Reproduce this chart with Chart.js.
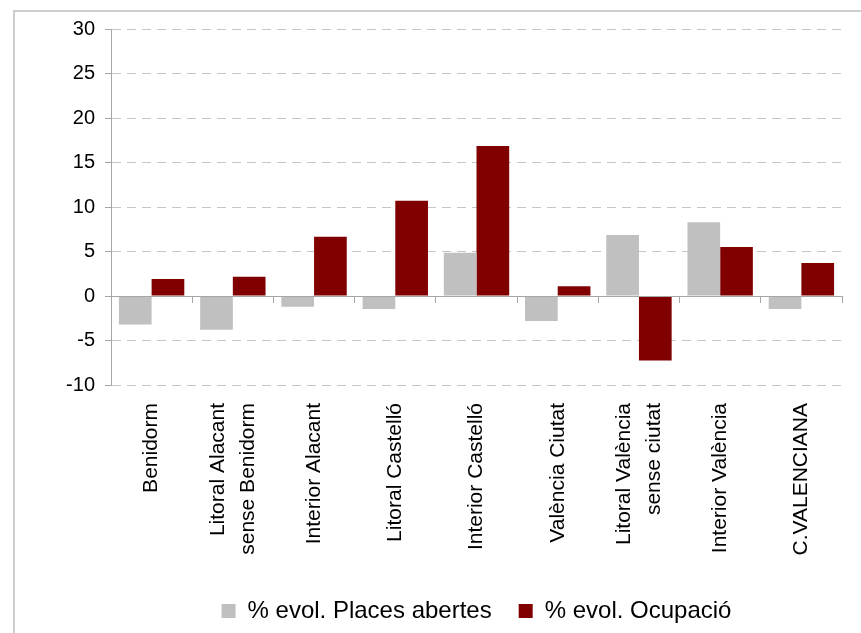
<!DOCTYPE html>
<html><head><meta charset="utf-8">
<script src="https://cdn.jsdelivr.net/npm/chart.js@4/dist/chart.umd.min.js"></script>
<style>
html,body{margin:0;padding:0;background:#fff;}
#wrap{position:relative;width:861px;height:633px;overflow:hidden;}
#frame{position:absolute;left:13px;top:10px;width:900px;height:700px;border:2px solid #cdcdcd;box-sizing:border-box;}
canvas{position:absolute;left:0;top:0;}
</style></head>
<body><div id="wrap"><div id="frame"></div><canvas id="c" width="861" height="633"></canvas></div>
<script>
const categories = [
  'Benidorm',
  ['Litoral Alacant', 'sense Benidorm'],
  'Interior Alacant',
  'Litoral Castelló',
  'Interior Castelló',
  'València Ciutat',
  ['Litoral València', 'sense ciutat'],
  'Interior València',
  'C.VALENCIANA'
];
const seriesNames = ['% evol. Places abertes', '% evol. Ocupació'];
const placesAbertes = [-3.2, -3.8, -1.2, -1.45, 4.85, -2.8, 6.85, 8.3, -1.45];
const ocupacio = [1.9, 2.15, 6.65, 10.7, 16.85, 1.1, -7.25, 5.5, 3.7];
const yTickValues = [-10, -5, 0, 5, 10, 15, 20, 25, 30];

const FONT = "'Liberation Sans', Arial, sans-serif";
const LABEL_FONT = { family: FONT, size: 21, lineHeight: 1.43 };

new Chart(document.getElementById('c'), {
  type: 'bar',
  data: {
    labels: categories,
    datasets: [
      { label: seriesNames[0], data: placesAbertes, backgroundColor: '#c0c0c0', xAxisID: 'x', yAxisID: 'y',
        categoryPercentage: 0.805, barPercentage: 1.0 },
      { label: seriesNames[1], data: ocupacio, backgroundColor: '#800000', xAxisID: 'x', yAxisID: 'y',
        categoryPercentage: 0.805, barPercentage: 1.0 }
    ]
  },
  options: {
    responsive: false,
    animation: false,
    events: [],
    layout: { padding: { left: 14, right: 19, top: 29, bottom: 0 } },
    plugins: {
      tooltip: { enabled: false },
      title: { display: false },
      legend: {
        position: 'bottom',
        fullSize: false,
        labels: {
          boxWidth: 14, boxHeight: 14, padding: 27,
          color: '#000',
          font: { family: FONT, size: 24 }
        }
      }
    },
    scales: {
      x: {
        type: 'category',
        position: 'bottom',
        offset: true,
        grid: { display: false, drawTicks: false },
        border: { display: false },
        ticks: {
          autoSkip: false, maxRotation: 90, minRotation: 90, padding: 18,
          color: '#000',
          font: LABEL_FONT,
          callback: function (v) { const l = this.getLabelForValue(v); return Array.isArray(l) ? '' : l; }
        },
        afterFit: s => { s.height = 187; }
      },
      xm: {
        type: 'category',
        axis: 'x',
        position: { y: -10 },
        offset: true,
        labels: categories,
        grid: { display: false, drawTicks: false },
        border: { display: false },
        ticks: {
          autoSkip: false, maxRotation: 90, minRotation: 90, padding: 18, labelOffset: -15,
          color: '#000',
          font: LABEL_FONT,
          callback: function (v) { const l = this.getLabelForValue(v); return Array.isArray(l) ? l : ''; }
        }
      },
      x2: {
        type: 'category',
        axis: 'x',
        position: { y: 0 },
        offset: true,
        labels: categories,
        grid: { offset: true, drawOnChartArea: false, drawTicks: true, tickLength: 6, tickColor: '#a6a6a6', color: '#a6a6a6' },
        border: { display: true, color: '#a6a6a6', width: 1, z: 1 },
        ticks: { display: false }
      },
      y: {
        type: 'linear',
        position: 'left',
        min: -10, max: 30,
        afterBuildTicks: s => { s.ticks = yTickValues.map(v => ({ value: v })); },
        grid: { color: '#c6c6c6', lineWidth: 1, tickLength: 6, tickColor: '#a6a6a6', tickBorderDash: [] },
        border: { display: true, color: '#a6a6a6', width: 1, dash: [9, 6] },
        ticks: { padding: 10, color: '#000', font: { family: FONT, size: 20 } },
        afterFit: s => { s.width = 97; }
      }
    }
  }
});
</script>
</body></html>
